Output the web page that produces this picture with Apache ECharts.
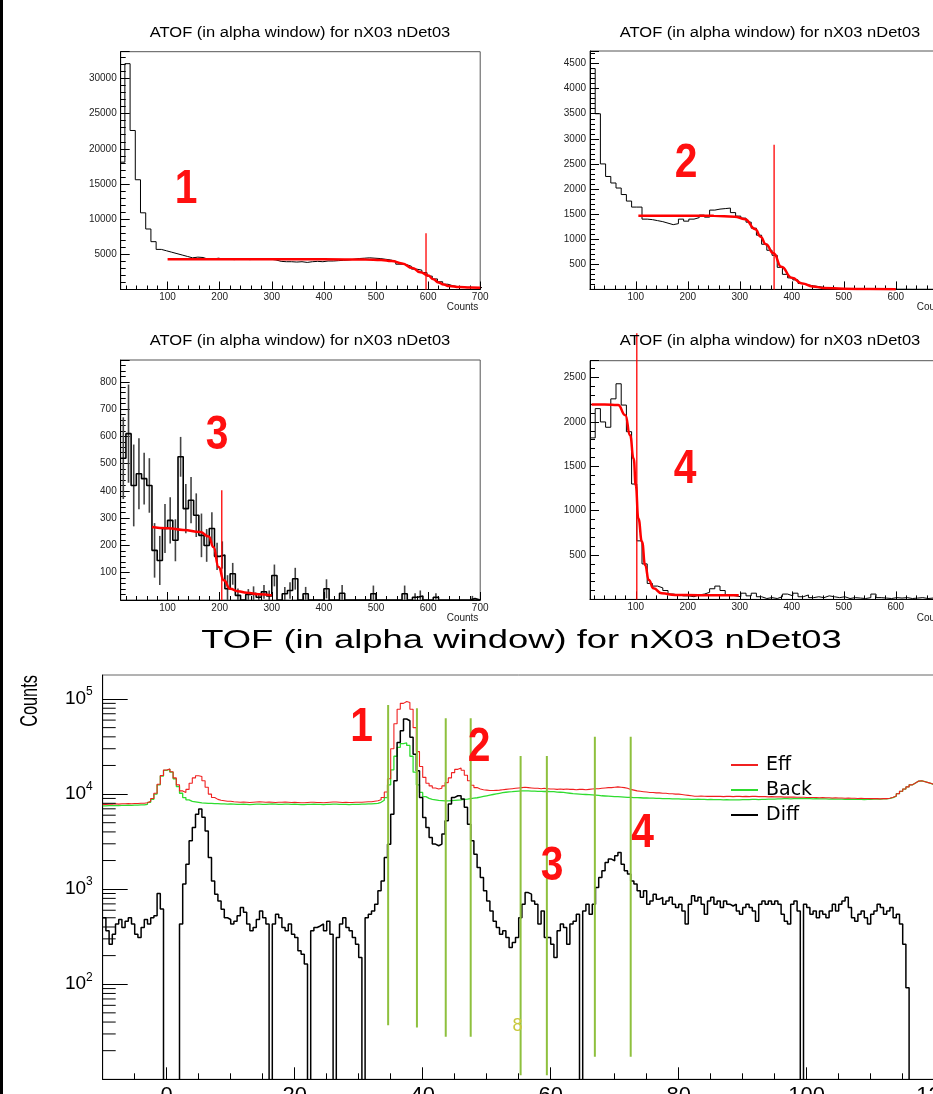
<!DOCTYPE html>
<html><head><meta charset="utf-8">
<script src="https://cdn.jsdelivr.net/npm/echarts@6/dist/echarts.min.js"></script>
<style>html,body{margin:0;padding:0;background:#fff}#c{width:933px;height:1094px}</style>
</head><body><div id="c"></div>
<script>
// ---------------- DATA ----------------
const smallTitle = 'ATOF (in alpha window) for nX03 nDet03';
const mainTitle = 'TOF (in alpha window) for nX03 nDet03';
const axisTitle = 'Counts';
const panelLabels = ['1', '2', '3', '4'];
const legendNames = ['Eff', 'Back', 'Diff'];

// Panel 1 histogram: bins of 10 starting at 8
const p1Start = 8;
const p1 = [18100,32100,22600,15600,10900,8600,6800,5700,5500,5300,
  5100,4900,4700,4500,4600,4550,4300,4350,4450,4300,
  4300,4250,4300,4300,4250,4300,4350,4300,4300,4200,
  4000,3950,3950,3900,3950,3850,3950,4000,3950,4050,
  4050,4100,4150,4200,4300,4400,4450,4500,4450,4400,
  4300,4200,4000,3600,3550,3300,2900,2750,2400,1900,
  1500,1100,750,520,400,330,300,290,280,270];
const fit1X = [100,200,300,400,480,510,530,550,570,585,600,610,620,630,640,660,680,700];
const fit1Y = [4290,4290,4290,4285,4270,4200,4050,3700,3050,2450,2000,1450,1000,700,500,340,280,260];

// Panel 2 histogram: bins of 10 starting at 12
const p2Start = 12;
const p2 = [4400,3500,2500,2250,2120,2020,1890,1760,1640,1640,
  1400,1390,1370,1350,1320,1290,1310,1400,1360,1400,
  1430,1480,1440,1580,1600,1610,1620,1530,1460,1420,
  1340,1220,1080,900,780,680,440,300,230,190,
  120,90,70,55,40,30,20,15,10,10,
  8,8,6,6,5,5,4,4,3,3,
  3,2,2,2,2,1,1,1,1];
const fit2X = [105,150,200,250,290,310,330,340,350,365,380,400,420,440,460,500,550,600];
const fit2Y = [1467,1467,1467,1465,1450,1400,1200,1050,900,720,450,230,120,60,30,12,6,5];

// Panel 3 histogram: bins of 10 starting at 10, with error bars
const p3Start = 10;
const p3 = [520,610,420,463,445,420,182,145,262,292,
  219,525,335,366,311,237,200,262,160,165,
  41,96,17,0,20,25,10,30,15,90,
  0,23,35,78,0,23,0,0,0,41,
  0,0,25,0,0,0,0,0,23,0,
  0,0,0,0,23,0,10,15,0,0,
  10,0,0,0,0,0,0,5,0];
const p3Err = [150,180,150,130,95,100,100,90,90,85,
  77,73,90,85,80,80,60,60,50,50,
  50,40,25,0,20,25,15,25,20,40,
  0,25,30,40,0,25,0,0,0,35,
  0,0,30,0,0,0,0,0,30,0,
  0,0,0,0,30,0,15,20,0,0,
  15,0,0,0,0,0,0,10,0];
const fit3X = [70,100,130,163,179,188,198,208,220,235,252,275,300];
const fit3Y = [268,263,257,249,233,194,121,72,41,32,27,21,17];

// Panel 4 histogram: bins of 10 starting at 12
const p4Start = 12;
const p4 = [1820,2150,2000,1940,2260,2430,2190,1890,1300,660,
  400,180,150,130,100,60,50,40,40,30,
  50,60,80,120,150,100,50,40,30,70,
  40,70,30,10,20,10,30,60,40,70,
  30,50,20,30,20,40,30,20,30,10,
  20,15,10,20,60,20,15,10,20,15,
  20,10,15,20,10,15,20,15,25];
const fit4X = [15,40,66,80,89,96,100,105,112,118,125,134,150,176,220,298];
const fit4Y = [2195,2195,2190,2075,1850,1585,1285,912,649,387,219,125,68,50,48,48];

// red cut lines in the four panels
const cutX = [596, 366, 204, 102];
const cutTop = [8000, 2880, 402, 3000];

// Bottom TOF spectra: bins of 0.5 starting at -10 (value 1 = empty bin, below the log axis)
const tofStart = -10;
const tofBin = 0.5;
const effVals = [
  7800,7850,7850,7900,7850,7900,7900,7950,7900,7950,
  7950,8000,8000,8100,8400,9000,10200,12700,15700,17900,
  18400,17200,14800,12500,10800,10400,11200,13000,14800,15600,
  15300,13800,11800,10000,9200,8800,8600,8500,8400,8400,
  8300,8250,8200,8250,8200,8150,8200,8250,8300,8250,
  8200,8250,8200,8150,8200,8200,8250,8200,8150,8200,
  8150,8100,8100,8150,8200,8200,8150,8150,8100,8150,
  8200,8250,8250,8200,8150,8200,8150,8150,8200,8200,
  8200,8250,8300,8300,8400,8500,8700,9200,10500,14500,
  30000,55000,78000,90000,94000,92000,78000,50000,28000,19500,
  15000,13000,12200,11600,11300,11500,12200,13200,14800,16800,
  18200,18800,17800,15800,13800,12400,11700,11300,11100,11000,
  10900,10900,10950,11000,11100,11200,11300,11400,11500,11600,
  11700,11800,11700,11600,11500,11500,11400,11500,11400,11300,
  11300,11200,11300,11200,11300,11200,11200,11100,11200,11200,
  11100,11200,11300,11400,11400,11500,11600,11700,11700,11800,
  11900,11800,11700,11500,11200,11000,10800,10700,10600,10500,
  10400,10400,10300,10300,10200,10200,10100,10100,10000,10000,
  9900,9800,9700,9600,9500,9500,9550,9500,9450,9450,
  9450,9500,9450,9400,9450,9450,9400,9450,9450,9400,
  9450,9400,9450,9450,9400,9400,9400,9350,9400,9350,
  9350,9350,9300,9300,9300,9300,9250,9250,9250,9200,
  9200,9200,9200,9150,9200,9150,9150,9100,9150,9100,
  9100,9050,9100,9050,9050,9000,9050,9000,9000,8950,
  8950,8950,8900,8950,8950,9050,9250,9550,10100,10700,
  11300,11900,12500,13100,13700,13800,13500,13200,12900,12500,
  12100,11700,11300,10900,10500,10200,9900,9700,9500,9400];
const backVals = [
  7500,7550,7550,7600,7550,7600,7600,7650,7600,7650,
  7650,7700,7700,7800,8200,8800,10000,12500,15500,17800,
  18300,17000,14500,12000,10200,9200,8700,8400,8300,8200,
  8100,8050,8000,8000,7950,7950,7900,7900,7850,7900,
  7850,7800,7800,7850,7800,7750,7800,7850,7850,7800,
  7800,7850,7900,7850,7800,7800,7850,7850,7800,7850,
  7800,7750,7750,7800,7800,7850,7800,7800,7750,7800,
  7800,7850,7850,7800,7800,7800,7750,7800,7800,7800,
  7850,7850,7900,7900,7950,8000,8200,8600,9200,12500,
  18000,25000,31000,34000,34500,32500,25000,17000,12500,10400,
  9400,9000,8800,8700,8600,8550,8500,8500,8550,8600,
  8650,8700,8800,8850,8950,9050,9150,9300,9450,9600,
  9750,9900,10050,10200,10350,10450,10550,10600,10700,10750,
  10800,10800,10800,10750,10750,10700,10700,10650,10650,10600,
  10600,10500,10450,10400,10300,10200,10100,10050,10000,9950,
  9900,9850,9800,9750,9700,9600,9550,9500,9450,9400,
  9400,9350,9300,9250,9250,9200,9200,9150,9100,9100,
  9050,9050,9000,9000,8950,8950,8950,8900,8900,8900,
  8850,8850,8850,8800,8800,8850,8800,8800,8750,8800,
  8750,8750,8750,8700,8750,8700,8700,8700,8700,8750,
  8750,8750,8800,8800,8750,8800,8800,8850,8850,8850,
  8900,8900,8950,8950,8900,8950,8950,9000,8950,8950,
  8950,8900,8950,8900,8900,8900,8850,8900,8850,8850,
  8850,8800,8850,8800,8800,8800,8800,8750,8800,8800,
  8850,8850,8850,8900,8900,9000,9200,9500,10100,10700,
  11300,11900,12500,13100,13700,13800,13500,13200,12900,12500,
  12100,11700,11300,10900,10500,10200,9900,9700,9500,9400];
const diffVals = [
  500,365,263,335,430,480,395,460,500,430,
  335,310,395,480,430,500,525,900,620,1,
  1,1,1,1,430,1130,1830,3230,4450,6150,
  6950,5700,4100,2150,1220,885,750,616,500,480,
  430,460,525,640,570,430,365,395,480,590,
  500,430,1,430,545,500,395,365,430,335,
  310,225,207,163,1,365,395,410,430,365,
  460,335,1,310,430,500,395,365,310,264,
  191,1,500,545,590,695,960,1220,2150,2970,
  6150,13800,34800,46300,61600,59100,39500,26300,17600,9220,
  5680,4460,3500,2980,2860,2980,3800,5240,7860,9220,
  9600,9600,8870,7250,4830,3230,2330,1690,1330,960,
  750,590,460,395,335,365,310,243,275,310,
  500,695,920,885,750,695,430,590,310,310,
  264,191,365,430,395,264,430,460,545,1,
  590,695,545,695,1040,1330,1560,1910,2070,1990,
  2240,2430,1830,1560,1440,1220,1130,960,820,960,
  695,750,885,785,820,695,750,820,695,640,
  695,590,430,695,850,750,820,695,545,750,
  820,695,750,640,750,695,665,695,590,545,
  640,695,640,590,460,695,750,695,750,695,
  750,695,545,460,430,695,750,590,1,695,
  640,545,590,500,590,545,500,590,695,590,
  695,750,820,640,500,460,545,590,500,430,
  545,590,695,640,545,590,640,500,545,430,
  264,92,1,1,1,1,1,1,1,1,
  1,1,1,1,1,1,1,1,1,1];

// green gate lines on the TOF plot
const gateX = [34.6, 39.1, 43.6, 47.5, 55.3, 59.4, 66.9, 72.5];
const gateTop = [86400, 79800, 62700, 62700, 25100, 25100, 40100, 40100];
const gateBottom = [37, 35, 28, 28, 11, 11, 17.3, 17.3];

// log-axis minor tick values (ROOT style 2..9 x 10^n)
const logMinorTicks = [20,30,40,50,60,70,80,90,200,300,400,500,600,700,800,900,
  2000,3000,4000,5000,6000,7000,8000,9000,20000,30000,40000,50000,60000,70000,80000,90000];

// ---------------- HELPERS ----------------
const FF = '"Liberation Sans", Arial, Helvetica, sans-serif';
function hist(start, width, vals) {
  const pts = vals.map((v, i) => [start + i * width, v]);
  pts.push([start + vals.length * width, vals[vals.length - 1]]);
  return pts;
}
function pairs(xs, ys) { return xs.map((x, i) => [x, ys[i]]); }
const plain = v => String(v);

function smallX(gi, min) {
  return {
    gridIndex: gi, type: 'value', min: min, max: 700, splitNumber: 7,
    axisLine: { onZero: false, lineStyle: { color: '#000', width: 1 } },
    axisTick: { inside: true, length: 8, lineStyle: { color: '#000' } },
    minorTick: { show: true, splitNumber: 5, length: 4, lineStyle: { color: '#000' } },
    axisLabel: { fontSize: 10, fontFamily: FF, color: '#222', margin: 3, showMinLabel: false, formatter: plain },
    splitLine: { show: false }
  };
}
function smallY(gi, max, interval) {
  return {
    gridIndex: gi, type: 'value', min: 0, max: max, interval: interval,
    axisLine: { show: true, onZero: false, lineStyle: { color: '#000', width: 1 } },
    axisTick: { inside: true, length: 9, lineStyle: { color: '#000' } },
    minorTick: { show: true, splitNumber: 5, length: 5, lineStyle: { color: '#000' } },
    axisLabel: { fontSize: 10, fontFamily: FF, color: '#222', margin: 4, showMinLabel: false, showMaxLabel: false, formatter: plain },
    splitLine: { show: false }
  };
}
function histSeries(gi, start, vals, width) {
  return { type: 'line', xAxisIndex: gi, yAxisIndex: gi, step: 'end', symbol: 'none', silent: true,
    data: hist(start, 10, vals), lineStyle: { color: '#000', width: width || 1 }, z: 2 };
}
function fitSeries(gi, xs, ys) {
  return { type: 'line', xAxisIndex: gi, yAxisIndex: gi, smooth: true, smoothMonotone: 'x', symbol: 'none', silent: true,
    data: pairs(xs, ys), lineStyle: { color: '#ff0000', width: 2.5 }, z: 3 };
}
function cutSeries(gi) {
  return { type: 'line', xAxisIndex: gi, yAxisIndex: gi, symbol: 'none', silent: true, clip: false,
    data: [[cutX[gi], 0], [cutX[gi], cutTop[gi]]], lineStyle: { color: '#ff0000', width: 1.3 }, z: 4 };
}

const series = [];
series.push(histSeries(0, p1Start, p1), fitSeries(0, fit1X, fit1Y), cutSeries(0));
series.push(histSeries(1, p2Start, p2), fitSeries(1, fit2X, fit2Y), cutSeries(1));
series.push(histSeries(2, p3Start, p3, 1.6), fitSeries(2, fit3X, fit3Y), cutSeries(2));
series.push({
  type: 'custom', xAxisIndex: 2, yAxisIndex: 2, silent: true, z: 2,
  data: p3.map((v, i) => [p3Start + i * 10 + 5, v, p3Err[i]]),
  encode: { x: 0, y: 1 },
  renderItem: function (params, api) {
    const x = api.value(0), v = api.value(1), e = api.value(2);
    if (!(e > 0)) return { type: 'group', children: [] };
    const lo = api.coord([x, Math.max(0, v - e)]), hi = api.coord([x, v + e]);
    return { type: 'line', shape: { x1: lo[0], y1: lo[1], x2: hi[0], y2: hi[1] }, style: { stroke: '#444', lineWidth: 1.6 } };
  }
});
series.push(histSeries(3, p4Start, p4), fitSeries(3, fit4X, fit4Y), cutSeries(3));

// bottom TOF plot
series.push({ name: 'Back', type: 'line', xAxisIndex: 4, yAxisIndex: 4, step: 'end', symbol: 'none', silent: true,
  data: hist(tofStart, tofBin, backVals), color: '#2fdc2f', lineStyle: { color: '#2fdc2f', width: 1.3 }, z: 2 });
series.push({ name: 'Eff', type: 'line', xAxisIndex: 4, yAxisIndex: 4, step: 'end', symbol: 'none', silent: true,
  data: hist(tofStart, tofBin, effVals), color: '#f02020', lineStyle: { color: '#f02020', width: 1.1 }, z: 2 });
series.push({ name: 'Diff', type: 'line', xAxisIndex: 4, yAxisIndex: 4, step: 'end', symbol: 'none', silent: true,
  data: hist(tofStart, tofBin, diffVals), color: '#000', lineStyle: { color: '#000', width: 1.5 }, z: 3 });
gateX.forEach((gx, i) => {
  series.push({ type: 'line', xAxisIndex: 4, yAxisIndex: 4, symbol: 'none', silent: true,
    data: [[gx, gateBottom[i]], [gx, gateTop[i]]], lineStyle: { color: '#8ec03e', width: 2 }, z: 5 });
});
series.push({
  type: 'custom', xAxisIndex: 4, yAxisIndex: 4, silent: true, z: 6,
  data: logMinorTicks.map(v => [tofStart, v]),
  encode: { x: 0, y: 1 },
  renderItem: function (params, api) {
    const p = api.coord([api.value(0), api.value(1)]);
    return { type: 'line', shape: { x1: p[0], y1: p[1], x2: p[0] + 13, y2: p[1] }, style: { stroke: '#000', lineWidth: 1 } };
  }
});

function txt(x, y, text, size, opts) {
  opts = opts || {};
  return {
    type: 'text', x: x, y: y, scaleX: opts.scaleX || 1, rotation: opts.rotation || 0, silent: true, z: 100,
    style: { text: text, fontSize: size, fontFamily: opts.family || FF, fontWeight: opts.weight || 'normal',
      fill: opts.color || '#000', textAlign: 'center', textVerticalAlign: 'middle', align: 'center', verticalAlign: 'middle' }
  };
}
const redOpts = { weight: 'bold', color: '#ff1010', scaleX: 0.85 };
const smallName = { color: '#222' };
const gridBase = { show: true, borderWidth: 1, containLabel: false, outerBoundsMode: 'none' };

const option = {
  animation: false,
  backgroundColor: '#fff',
  grid: [
    Object.assign({ left: 120.7, top: 51.7, width: 359.5, height: 237.8, borderColor: '#555' }, gridBase),
    Object.assign({ left: 590, top: 51, width: 357.8, height: 238.4, borderColor: '#555' }, gridBase),
    Object.assign({ left: 120.7, top: 360, width: 359.5, height: 240, borderColor: '#555' }, gridBase),
    Object.assign({ left: 590, top: 360.7, width: 357.8, height: 238.7, borderColor: '#555' }, gridBase),
    Object.assign({ left: 102.7, top: 675, width: 864, height: 404.3, borderColor: '#666' }, gridBase)
  ],
  xAxis: [
    smallX(0, 10), smallX(1, 12), smallX(2, 10), smallX(3, 12),
    {
      gridIndex: 4, type: 'value', min: -10, max: 125, splitNumber: 7,
      axisLine: { onZero: false, lineStyle: { color: '#000', width: 1 } },
      axisTick: { inside: true, length: 12, lineStyle: { color: '#000' } },
      minorTick: { show: true, splitNumber: 4, length: 6, lineStyle: { color: '#000' } },
      axisLabel: { fontSize: 22, fontFamily: FF, color: '#000', margin: 6, showMinLabel: false, showMaxLabel: false, formatter: plain },
      splitLine: { show: false }
    }
  ],
  yAxis: [
    smallY(0, 33800, 5000), smallY(1, 4750, 500), smallY(2, 880, 100), smallY(3, 2690, 500),
    {
      gridIndex: 4, type: 'log', logBase: 10, min: 10, max: 178900,
      axisLine: { show: true, onZero: false, lineStyle: { color: '#000', width: 1 } },
      axisTick: { inside: true, length: 25, lineStyle: { color: '#000' } },
      minorTick: { show: false },
      axisLabel: {
        margin: 10, showMinLabel: false, showMaxLabel: false,
        formatter: function (v) { return '{b|10}{e|' + Math.round(Math.log10(v)) + '}'; },
        rich: {
          b: { fontSize: 19, fontFamily: FF, color: '#000', lineHeight: 26 },
          e: { fontSize: 12, fontFamily: FF, color: '#000', verticalAlign: 'top', lineHeight: 12 }
        }
      },
      splitLine: { show: false }
    }
  ],
  legend: {
    data: legendNames, orient: 'vertical', left: 731, top: 755, padding: 0, itemWidth: 27, itemHeight: 2, icon: 'rect',
    itemGap: 5, selectedMode: false,
    textStyle: { fontFamily: '"DejaVu Sans", sans-serif', fontSize: 19, color: '#000', lineHeight: 20, padding: [0, 0, 0, 3] }
  },
  series: series,
  graphic: [
    { type: 'rect', shape: { x: 0, y: 0, width: 3, height: 1094 }, style: { fill: '#000' }, silent: true },
    txt(300, 33, smallTitle, 14, { scaleX: 1.18 }),
    txt(770, 33, smallTitle, 14, { scaleX: 1.18 }),
    txt(300, 341.5, smallTitle, 14, { scaleX: 1.18 }),
    txt(770, 341.5, smallTitle, 14, { scaleX: 1.18 }),
    txt(462.5, 307, axisTitle, 10, smallName),
    txt(932.5, 307, axisTitle, 10, smallName),
    txt(462.5, 618, axisTitle, 10, smallName),
    txt(932.5, 618, axisTitle, 10, smallName),
    txt(521.5, 641, mainTitle, 26, { scaleX: 1.4 }),
    txt(30, 701, axisTitle, 24, { scaleX: 0.68, rotation: Math.PI / 2 }),
    txt(186, 190, panelLabels[0], 48, redOpts),
    txt(686, 164, panelLabels[1], 48, redOpts),
    txt(217, 436, panelLabels[2], 48, redOpts),
    txt(685, 470, panelLabels[3], 48, redOpts),
    txt(361.5, 728, panelLabels[0], 48, redOpts),
    txt(479, 748, panelLabels[1], 48, redOpts),
    txt(552, 866.5, panelLabels[2], 48, redOpts),
    txt(642.5, 834, panelLabels[3], 48, redOpts),
    txt(517.5, 1026, '8', 18, { color: '#c8c83a' })
  ]
};

const chart = echarts.init(document.getElementById('c'), null, { renderer: 'canvas' });
chart.setOption(option);
</script>
</body></html>
